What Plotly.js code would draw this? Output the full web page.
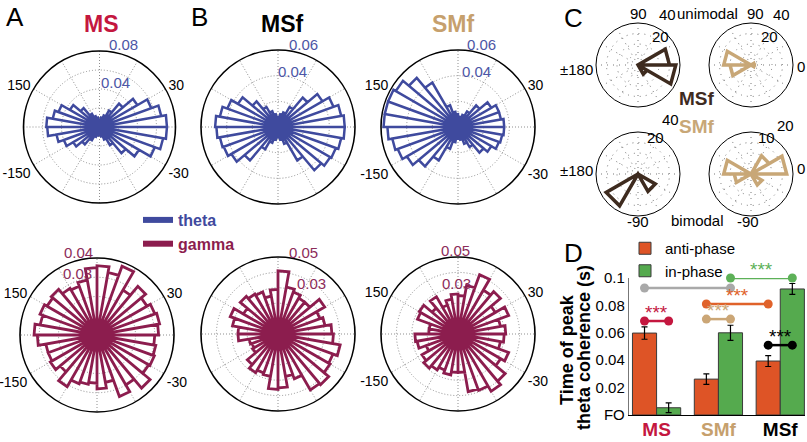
<!DOCTYPE html>
<html><head><meta charset="utf-8">
<script src="https://cdn.plot.ly/plotly-3.0.1.min.js"></script>
<style>html,body{margin:0;padding:0;background:#fff}#chart{width:807px;height:442px}</style>
</head><body><div id="chart"></div>
<script>
// ---------- DATA ----------
// Rose histograms: 36 bins of 10 deg, listed from bin [0,10) counter-clockwise
const msTheta  = [0.071,0.066,0.058,0.046,0.032,0.020,0.013,0.010,0.008,0.008,0.010,0.012,0.016,0.026,0.036,0.046,0.050,0.056,
                  0.055,0.046,0.040,0.032,0.024,0.016,0.011,0.009,0.008,0.008,0.010,0.014,0.022,0.036,0.048,0.062,0.068,0.071];
const msfTheta = [0.052,0.050,0.046,0.040,0.030,0.018,0.012,0.010,0.008,0.008,0.010,0.013,0.018,0.026,0.036,0.042,0.046,0.049,
                  0.048,0.046,0.045,0.042,0.034,0.020,0.013,0.010,0.008,0.008,0.010,0.014,0.030,0.044,0.047,0.048,0.050,0.052];
const smfTheta = [0.036,0.034,0.034,0.030,0.022,0.014,0.010,0.008,0.008,0.010,0.012,0.018,0.040,0.050,0.056,0.058,0.058,0.058,
                  0.055,0.052,0.050,0.046,0.040,0.030,0.018,0.012,0.009,0.008,0.010,0.014,0.018,0.026,0.030,0.034,0.035,0.036];
const msGamma  = [0.032,0.033,0.032,0.030,0.033,0.027,0.038,0.033,0.036,0.035,0.029,0.027,0.028,0.031,0.030,0.0315,0.030,0.0327,
                  0.031,0.027,0.027,0.028,0.025,0.031,0.027,0.026,0.025,0.028,0.025,0.034,0.030,0.036,0.031,0.0317,0.031,0.030];
const msfGamma = [0.035,0.031,0.029,0.035,0.027,0.027,0.029,0.031,0.041,0.029,0.025,0.029,0.030,0.032,0.026,0.033,0.030,0.026,
                  0.026,0.019,0.018,0.019,0.026,0.029,0.027,0.028,0.036,0.035,0.028,0.031,0.042,0.043,0.039,0.038,0.041,0.036];
const smfGamma = [0.031,0.028,0.035,0.028,0.036,0.033,0.041,0.032,0.025,0.026,0.023,0.020,0.028,0.022,0.029,0.028,0.019,0.019,
                  0.028,0.027,0.022,0.027,0.029,0.027,0.025,0.027,0.025,0.025,0.038,0.039,0.043,0.040,0.032,0.035,0.028,0.030];
// radial tick labels shown on each rose
const msThetaLabels  = ["0.08","0.04"], msfThetaLabels = ["0.06","0.04"], smfThetaLabels = ["0.06","0.04"];
const msGammaLabels  = ["0.04","0.03"], msfGammaLabels = ["0.05","0.03"], smfGammaLabels = ["0.05","0.03"];
// Panel C: 12 bins of 30 deg, from [0,30) counter-clockwise
const msfUnimodal = [30,0,0,0,0,0,0,0,0,0,10,36];
const smfUnimodal = [3,0,0,0,0,26,20,0,0,0,0,3];
const msfBimodal  = [0,0,0,0,0,0,0,35,0,0,19,0];
const smfBimodal  = [17,10,0,0,0,13,8,0,0,0,6,0];
// Panel D
const groups      = ["MS","SMf","MSf"];
const antiPhase   = [0.0598,0.0262,0.0394];
const antiErr     = [0.0045,0.0038,0.0040];
const inPhase     = [0.0053,0.0600,0.0920];
const inErr       = [0.0035,0.0055,0.0040];
const yTickVals   = [0,0.02,0.04,0.06,0.08,0.1];
const yTickText   = ["FO","0.02","0.04","0.06","0.08","0.1"];
const yTitleLines = ["Time of peak","theta coherence (s)"];
// significance brackets: [group, phase] -> [group, phase], level
const sigFrom  = [[0,"anti"],[0,"anti"],[1,"anti"],[1,"anti"],[1,"in"],[2,"anti"]];
const sigTo    = [[0,"in"],  [1,"in"],  [1,"in"],  [2,"anti"],[2,"in"],[2,"in"]];
const sigLevel = [0.0686,0.0927,0.0700,0.0810,0.1000,0.0510];
const sigStars = ["***","","***","***","***","***"];
const sigColor = ["#C4173F","#A9A9A9","#CBA676","#E0622A","#5DB158","#000000"];

// ---------- STYLE / LAYOUT HELPERS ----------
const W = 807, H = 442;
const SANS = "Liberation Sans, Arial, sans-serif";
const BLUE = "#3F4A9E", MAROON = "#8C1D4E", CRIMSON = "#C4173F", TAN = "#C6A06D";
const BROWN = "#3E2B1F", CTAN = "#C8A777";
const ANTI = "#DE5426", INPH = "#55AA4E";
const RLBLUE = "#4C56A6", RLMAROON = "#8C2C5A";

function dom(cx, cy, R){ return {x:[(cx-R)/W,(cx+R)/W], y:[1-(cy+R)/H, 1-(cy-R)/H]}; }

function roseTrace(vals, subplot, color, width){
  const step = 360/vals.length, r=[], th=[];
  vals.forEach((v,i)=>{ const a0=i*step, a1=(i+1)*step; r.push(0,v,v,0); th.push(a0,a0,a1,a1); });
  return {type:'scatterpolar', mode:'lines', r:r, theta:th, subplot:subplot,
          line:{color:color, width:width}, showlegend:false, hoverinfo:'skip'};
}

const ANG12 = [0,30,60,90,120,150,180,210,240,270,300,330];
function bigPolar(d, rmax, rstep, angLabels){
  const tv=[]; for(let v=rstep; v<=rmax+1e-9; v+=rstep) tv.push(+v.toFixed(4));
  return {
    domain:d, bgcolor:'#fff',
    radialaxis:{range:[0,rmax], tickmode:'array', tickvals:tv, showticklabels:false, showline:false, ticks:'',
      showgrid:true, gridcolor:'#8f8f8f', griddash:'1px,2px', gridwidth:1},
    angularaxis:{direction:'counterclockwise', rotation:0, tickmode:'array', tickvals:ANG12,
      ticktext: angLabels ? ['','30','','','','150','','-150','','','','-30'] : ANG12.map(()=>''),
      showline:true, linecolor:'#000', linewidth:1.6, ticks:'', showgrid:true, gridcolor:'#8f8f8f', griddash:'1px,2px', gridwidth:1,
      tickfont:{family:SANS, size:14, color:'#000'}}
  };
}
function smallPolar(d, rmax){
  return {
    domain:d, bgcolor:'#fff',
    radialaxis:{range:[0,rmax], tickmode:'array', tickvals:[rmax/4,rmax/2,3*rmax/4,rmax], showticklabels:false,
      showline:false, ticks:'', showgrid:true, gridcolor:'#777', griddash:'1px,5px', gridwidth:1},
    angularaxis:{direction:'counterclockwise', rotation:0, tickmode:'array', tickvals:ANG12, showticklabels:false,
      showline:true, linecolor:'#000', linewidth:1, ticks:'', showgrid:true, gridcolor:'#777', griddash:'1px,5px', gridwidth:1}
  };
}

// ---------- TRACES ----------
const traces = [
  roseTrace(msTheta,'polar',BLUE,2.5), roseTrace(msfTheta,'polar2',BLUE,2.5), roseTrace(smfTheta,'polar3',BLUE,2.5),
  roseTrace(msGamma,'polar4',MAROON,2.8), roseTrace(msfGamma,'polar5',MAROON,2.8), roseTrace(smfGamma,'polar6',MAROON,2.8),
  roseTrace(msfUnimodal,'polar7',BROWN,3.5), roseTrace(smfUnimodal,'polar8',CTAN,3.5),
  roseTrace(msfBimodal,'polar9',BROWN,3.5), roseTrace(smfBimodal,'polar10',CTAN,3.5),
  // theta / gamma legend entries
  {type:'scatterpolar', mode:'lines', r:[0], theta:[0], subplot:'polar', name:'<b><span style="color:'+BLUE+'">theta</span></b>',
   line:{color:BLUE, width:6}, legend:'legend2', showlegend:true, hoverinfo:'skip'},
  {type:'scatterpolar', mode:'lines', r:[0], theta:[0], subplot:'polar', name:'<b><span style="color:'+MAROON+'">gamma</span></b>',
   line:{color:MAROON, width:6}, legend:'legend2', showlegend:true, hoverinfo:'skip'},
  // bars
  {type:'bar', x:[0,1,2], y:antiPhase, name:'anti-phase', marker:{color:ANTI, line:{color:'#3a3a3a', width:1}},
   error_y:{type:'data', array:antiErr, color:'#000', thickness:1.2, width:3}, xaxis:'x', yaxis:'y', hoverinfo:'skip'},
  {type:'bar', x:[0,1,2], y:inPhase, name:'in-phase', marker:{color:INPH, line:{color:'#3a3a3a', width:1}},
   error_y:{type:'data', array:inErr, color:'#000', thickness:1.2, width:3}, xaxis:'x', yaxis:'y', hoverinfo:'skip'}
];
const BARGAP = 0.22, half = (1-BARGAP)/4;
const px = (g,p) => g + (p==='anti' ? -half : half);
const annotations = [];
sigLevel.forEach((lv,i)=>{
  const x1 = px(sigFrom[i][0], sigFrom[i][1]), x2 = px(sigTo[i][0], sigTo[i][1]);
  traces.push({type:'scatter', mode:'lines+markers', x:[x1,x2], y:[lv,lv], xaxis:'x', yaxis:'y', cliponaxis:false,
    line:{color:sigColor[i], width:2.5}, marker:{color:sigColor[i], size:9}, showlegend:false, hoverinfo:'skip'});
  if(sigStars[i]) annotations.push({xref:'x', yref:'y', x:(x1+x2)/2, y:lv, text:sigStars[i], showarrow:false,
    yanchor:'bottom', yshift:-4, font:{family:SANS, size:19, color:sigColor[i]}});
});

// ---------- LAYOUT ----------
const txt = (x,y,t,size,color,bold,extra) => Object.assign({xref:'paper', yref:'paper', x:x/W, y:1-y/H, text:bold?'<b>'+t+'</b>':t,
  showarrow:false, xanchor:'center', yanchor:'middle', font:{family:SANS, size:size, color:color}}, extra||{});
annotations.push(
  txt(15,17,'A',26,'#000'), txt(199,17,'B',26,'#000'), txt(573,18,'C',26,'#000'), txt(573,253,'D',26,'#000'),
  txt(101,24,'MS',23,CRIMSON,true), txt(282,24,'MSf',23,'#000',true), txt(454,24,'SMf',23,TAN,true),
  // rose radial labels
  txt(123.5,45,msThetaLabels[0],15,RLBLUE), txt(115,82,msThetaLabels[1],15,RLBLUE),
  txt(303.5,45,msfThetaLabels[0],15,RLBLUE), txt(292.5,72,msfThetaLabels[1],15,RLBLUE),
  txt(481.5,45,smfThetaLabels[0],15,RLBLUE), txt(476,72,smfThetaLabels[1],15,RLBLUE),
  txt(78.5,252,msGammaLabels[0],15,RLMAROON), txt(77.5,273,msGammaLabels[1],15,RLMAROON),
  txt(303,252,msfGammaLabels[0],15,RLMAROON), txt(311.5,283,msfGammaLabels[1],15,RLMAROON),
  txt(455,250,smfGammaLabels[0],15,RLMAROON), txt(456.5,283,smfGammaLabels[1],15,RLMAROON),
  // panel C labels
  txt(707,13,'unimodal',15,'#000'), txt(697,220,'bimodal',15,'#000'),
  txt(697,98,'MSf',19,BROWN,true), txt(697,127,'SMf',19,CTAN,true),
  txt(638,13,'90',15,'#000'), txt(576,69,'±180',15,'#000'), txt(667,15,'40',15,'#000'), txt(660,36,'20',15,'#000'),
  txt(755,13,'90',15,'#000'), txt(801,66,'0',15,'#000'), txt(781,15,'40',15,'#000'), txt(769,36,'20',15,'#000'),
  txt(576,171,'±180',15,'#000'), txt(638,221,'-90',15,'#000'), txt(670,120,'40',15,'#000'), txt(655,137,'20',15,'#000'),
  txt(801,168,'0',15,'#000'), txt(748,221,'-90',15,'#000'), txt(785,125,'20',15,'#000'), txt(766,137,'10',15,'#000'),
  // panel D y title (two lines)
  txt(567,350,yTitleLines[0],18,'#000',true,{textangle:-90}), txt(584,348,yTitleLines[1],18,'#000',true,{textangle:-90})
);

const layout = {
  width:W, height:H, margin:{l:0,r:0,t:0,b:0}, paper_bgcolor:'#fff', plot_bgcolor:'#fff',
  font:{family:SANS}, showlegend:true,
  polar:  bigPolar(dom(99.5,127,76), 0.08, 0.02, true),
  polar2: bigPolar(dom(278,127,77), 0.06, 0.02, false),
  polar3: bigPolar(dom(458,127,77), 0.06, 0.02, true),
  polar4: bigPolar(dom(97,335,77), 0.04, 0.01, true),
  polar5: bigPolar(dom(278,334,77), 0.05, 0.01, false),
  polar6: bigPolar(dom(458,334,77), 0.05, 0.01, true),
  polar7: smallPolar(dom(638,65,42), 40),
  polar8: smallPolar(dom(751,65,42), 40),
  polar9: smallPolar(dom(638,174,42), 40),
  polar10: smallPolar(dom(751,174,42), 20),
  barmode:'group', bargap:BARGAP, bargroupgap:0,
  xaxis:{domain:[629/W, 805/W], range:[-0.446,2.4], tickmode:'array', tickvals:[0,1,2],
    ticktext:groups.map((g,i)=>'<b><span style="color:'+[CRIMSON,TAN,'#000'][i]+'">'+g+'</span></b>'),
    showline:true, linecolor:'#000', linewidth:1.2, ticks:'', showgrid:false, zeroline:false, tickfont:{family:SANS, size:19},
    ticklabelstandoff:-3, fixedrange:true},
  yaxis:{domain:[1-415/H, 1-278/H], range:[0,0.1], tickmode:'array', tickvals:yTickVals, ticktext:yTickText,
    showline:true, linecolor:'#777', linewidth:1.2, ticks:'', showgrid:false, zeroline:false, tickfont:{family:SANS, size:15, color:'#000'}},
  legend:{x:625/W, y:1-232/H, xanchor:'left', yanchor:'top', bgcolor:'rgba(0,0,0,0)', font:{family:SANS, size:15, color:'#000'},
    tracegroupgap:0},
  legend2:{x:138/W, y:1-203/H, xanchor:'left', yanchor:'top', bgcolor:'rgba(0,0,0,0)', font:{family:SANS, size:16}},
  annotations:annotations
};
Plotly.newPlot('chart', traces, layout, {staticPlot:true, displayModeBar:false});
</script></body></html>
